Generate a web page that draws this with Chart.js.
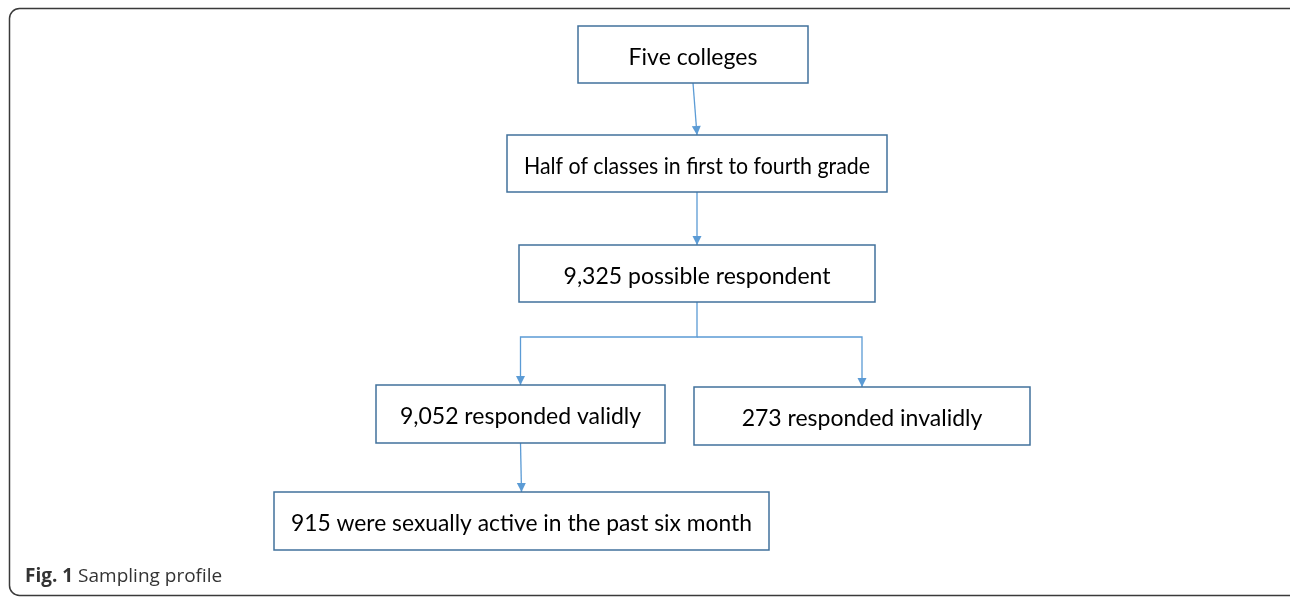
<!DOCTYPE html>
<html>
<head>
<meta charset="utf-8">
<script src="https://cdn.jsdelivr.net/npm/chart.js@4.4.1/dist/chart.umd.min.js"></script>
<style>
  html, body { margin: 0; padding: 0; background: #fff; }
  #wrap { position: relative; width: 1290px; height: 597px; }
</style>
</head>
<body>
<div id="wrap"><canvas id="flow"></canvas></div>
<script>
// --------------------- Flow steps (chart units) ------------------------
const stepLabels = [
    "Five colleges",
    "Half of classes in first to fourth grade",
    "9,325 possible respondent",
    "9,052 responded validly",
    "273 responded invalidly",
    "915 were sexually active in the past six month"
];
const stepLeft   = [578, 507, 519, 376, 694, 274];
const stepRight  = [808, 887, 875, 665, 1030, 769];
const stepTop    = [26, 135, 245, 385, 387, 492];
const stepBottom = [83, 192, 302, 443, 445, 550];

// from -> to
const links = [[0, 1], [1, 2], [2, 3], [2, 4], [3, 5]];
const branchLevel = 337;

const captionBold = "Fig. 1";
const captionText = "Sampling profile";

// --------------------- Build connector datasets ------------------------
function centerX(i) { return (stepLeft[i] + stepRight[i]) / 2; }

let seenBranch = {};
let connectors = links.map(([a, b]) => {
    let kids = links.filter(l => l[0] === a).length;
    let pts;
    if (kids > 1) {
        // shared stem is drawn only once
        pts = seenBranch[a] ? [] : [{ x: centerX(a), y: stepBottom[a] }];
        seenBranch[a] = true;
        pts.push(
            { x: centerX(a), y: branchLevel },
            { x: centerX(b), y: branchLevel },
            { x: centerX(b), y: stepTop[b] }
        );
    } else {
        pts = [
            { x: centerX(a), y: stepBottom[a] },
            { x: centerX(b), y: stepTop[b] }
        ];
    }
    return {
        type: 'line',
        data: pts,
        showLine: true,
        borderColor: '#5b9bd5',
        borderWidth: 1.3,
        pointRadius: 0,
        tension: 0,
        fill: false
    };
});

// --------------------- Plugins ------------------------
const framePlugin = {
    id: 'frame',
    beforeDraw(chart) {
        let c = chart.ctx;
        c.save();
        c.fillStyle = '#fff';
        c.fillRect(0, 0, chart.width, chart.height);
        c.strokeStyle = '#3a3a3a';
        c.lineWidth = 1.5;
        c.beginPath();
        c.roundRect(9.5, 8.5, 1290, 587, 10);
        c.stroke();

        c.fillStyle = '#333';
        c.textBaseline = 'alphabetic';
        c.font = 'bold 19px "Open Sans"';
        c.fillText(captionBold, 25, 582);
        let w = c.measureText(captionBold + ' ').width;
        c.font = '19px "Open Sans"';
        c.fillText(captionText, 25 + w, 582);
        c.restore();
    }
};

const boxesPlugin = {
    id: 'boxes',
    afterDatasetsDraw(chart) {
        let c = chart.ctx;
        let xs = chart.scales.x, ys = chart.scales.y;
        c.save();

        // arrow heads
        chart.data.datasets.forEach((ds, i) => {
            let pts = chart.getDatasetMeta(i).data;
            let p1 = pts[pts.length - 2], p2 = pts[pts.length - 1];
            let ang = Math.atan2(p2.y - p1.y, p2.x - p1.x);
            c.fillStyle = '#5b9bd5';
            c.beginPath();
            c.moveTo(p2.x, p2.y);
            c.lineTo(p2.x - 9 * Math.cos(ang) + 4.5 * Math.sin(ang), p2.y - 9 * Math.sin(ang) - 4.5 * Math.cos(ang));
            c.lineTo(p2.x - 9 * Math.cos(ang) - 4.5 * Math.sin(ang), p2.y - 9 * Math.sin(ang) + 4.5 * Math.cos(ang));
            c.closePath();
            c.fill();
        });

        // step boxes
        stepLabels.forEach((txt, i) => {
            let x0 = xs.getPixelForValue(stepLeft[i]);
            let x1 = xs.getPixelForValue(stepRight[i]);
            let y0 = ys.getPixelForValue(stepTop[i]);
            let y1 = ys.getPixelForValue(stepBottom[i]);
            c.fillStyle = '#fff';
            c.fillRect(x0, y0, x1 - x0, y1 - y0);
            c.strokeStyle = '#41719c';
            c.lineWidth = 1.5;
            c.strokeRect(x0, y0, x1 - x0, y1 - y0);
            c.fillStyle = '#000';
            c.font = '23px Lato';
            c.textAlign = 'center';
            c.textBaseline = 'middle';
            // keep the inner padding of the box
            c.fillText(txt, (x0 + x1) / 2, (y0 + y1) / 2 + 3, (x1 - x0) - 34);
        });
        c.restore();
    }
};

// --------------------- Chart ------------------------
const ctx = document.getElementById('flow').getContext('2d');
let flowChart = new Chart(ctx, {
    type: 'scatter',
    data: { datasets: connectors },
    options: {
        responsive: true,
        maintainAspectRatio: false,
        animation: false,
        layout: { padding: 0 },
        plugins: { legend: { display: false }, tooltip: { enabled: false } },
        scales: {
            x: { type: 'linear', min: 0, max: 1290, display: false },
            y: { type: 'linear', min: 0, max: 597, reverse: true, display: false }
        }
    },
    plugins: [framePlugin, boxesPlugin]
});
</script>
</body>
</html>
